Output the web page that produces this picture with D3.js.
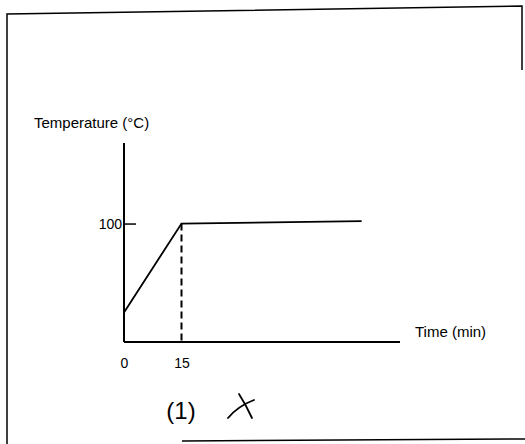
<!DOCTYPE html>
<html>
<head>
<meta charset="utf-8">
<script src="https://cdn.jsdelivr.net/npm/d3@7"></script>
<style>
  body { margin: 0; background: #fff; }
  text { font-family: "Liberation Sans", Arial, sans-serif; fill: #000; }
</style>
</head>
<body>
<script>
// heating profile
var times = [0, 15, 62];
var temps = [25, 100, 102];
var xTicks = [0, 15];
var yTicks = [100];
var xTitle = "Time (min)";
var yTitle = "Temperature (°C)";
var caption = "(1)";

var width = 525,
  height = 444;

var svg = d3.select('body')
  .append('svg')
  .attr('width', width)
  .attr('height', height);

// frame of the scanned box (partly missing)
svg.append('path')
  .attr('d', 'M7,444 L7,14 L522,6 L522,70')
  .attr('fill', 'none')
  .attr('stroke', '#000')
  .attr('stroke-width', 1.5);
svg.append('path')
  .attr('d', 'M182,441 L525,439')
  .attr('fill', 'none')
  .attr('stroke', '#000')
  .attr('stroke-width', 1.5);

var xScale = d3.scaleLinear().domain([0, 72]).range([124, 400]);
var yScale = d3.scaleLinear().domain([0, 168]).range([342, 143]);

var xAxis = d3.axisBottom(xScale).tickValues(xTicks).tickSize(0).tickPadding(16);
var yAxis = d3.axisLeft(yScale).tickValues(yTicks).tickSize(-12).tickPadding(2);

var gx = svg.append('g')
  .attr('transform', 'translate(0,' + yScale(0) + ')')
  .call(xAxis);
var gy = svg.append('g')
  .attr('transform', 'translate(' + xScale(0) + ',0)')
  .call(yAxis);

[gx, gy].forEach(function (g) {
  g.select('.domain').attr('stroke', '#000').attr('stroke-width', 2);
  g.selectAll('.tick line').attr('stroke', '#000').attr('stroke-width', 1.5);
  g.selectAll('.tick text')
    .attr('font-size', 14)
    .attr('font-family', '"Liberation Sans", Arial, sans-serif')
    .attr('fill', '#000');
});
// axis domain without end caps
gx.select('.domain').attr('d', 'M' + xScale(0) + ',0H' + xScale(72));
gy.select('.domain').attr('d', 'M0,' + yScale(0) + 'V' + yScale(168));

// the temperature curve
var line = d3.line()
  .x(function (d, i) { return xScale(times[i]); })
  .y(function (d) { return yScale(d); });

svg.append('path')
  .datum(temps)
  .attr('d', line)
  .attr('fill', 'none')
  .attr('stroke', '#000')
  .attr('stroke-width', 1.8);

// dashed drop line at the end of the ramp
svg.append('line')
  .attr('x1', xScale(times[1]))
  .attr('x2', xScale(times[1]))
  .attr('y1', yScale(temps[1]))
  .attr('y2', yScale(0))
  .attr('stroke', '#000')
  .attr('stroke-width', 2)
  .attr('stroke-dasharray', '7,4');

svg.append('text')
  .attr('x', 34)
  .attr('y', 128)
  .attr('font-size', 15)
  .text(yTitle);

svg.append('text')
  .attr('x', 415)
  .attr('y', 337)
  .attr('font-size', 15)
  .text(xTitle);

svg.append('text')
  .attr('x', 181)
  .attr('y', 419)
  .attr('text-anchor', 'middle')
  .attr('font-size', 24)
  .text(caption);

// hand drawn cross next to the caption
svg.append('path')
  .attr('d', 'M228,418 Q238,406 254,400 M239,394 Q246,405 252,418')
  .attr('fill', 'none')
  .attr('stroke', '#000')
  .attr('stroke-width', 1.8)
  .attr('stroke-linecap', 'round');
</script>
</body>
</html>
